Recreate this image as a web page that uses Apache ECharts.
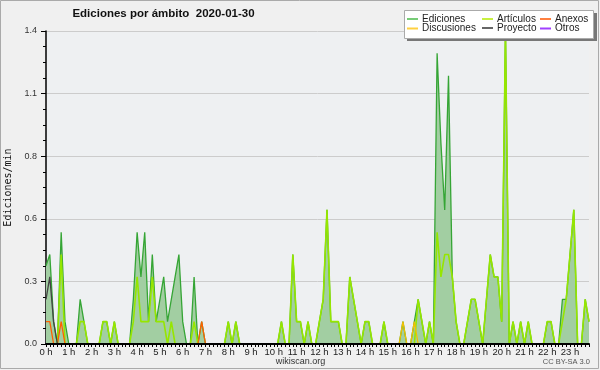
<!DOCTYPE html>
<html>
<head>
<meta charset="utf-8">
<script src="https://cdn.jsdelivr.net/npm/echarts@6/dist/echarts.min.js"></script>
<style>
html,body{margin:0;padding:0;background:#f0f0f0;}
#c{width:600px;height:370px;}
</style>
</head>
<body>
<div id="c"></div>
<script>
// tick labels (one per hour)
const hourLabels = ['0 h','1 h','2 h','3 h','4 h','5 h','6 h','7 h','8 h','9 h','10 h','11 h',
  '12 h','13 h','14 h','15 h','16 h','17 h','18 h','19 h','20 h','21 h','22 h','23 h'];

// values per 10 minutes (edits/min), 144 points
const ediciones = [
  0.35,0.4,0.1,0,0.5,0.1, 0,0,0,0.2,0.1,0, 0,0,0,0.1,0.1,0, 0.1,0,0,0,0,0.2,
  0.5,0.3,0.5,0.1,0.4,0.1, 0.2,0.3,0.1,0.2,0.3,0.4, 0.1,0,0,0.3,0,0.1, 0,0,0,0,0,0,
  0.1,0,0.1,0,0,0, 0,0,0,0,0,0, 0,0,0.1,0,0,0.4, 0.1,0.1,0,0.1,0,0,
  0.1,0.2,0.6,0.1,0.1,0.1, 0,0,0.3,0.2,0.1,0, 0.1,0.1,0,0,0,0.1, 0,0,0,0,0.1,0,
  0,0.1,0.2,0.1,0,0.1, 0,1.3,0.9,0.6,1.2,0.3, 0.1,0,0,0.1,0.2,0.2, 0.1,0,0.2,0.4,0.3,0.3,
  0.1,1.4,0,0.1,0,0.1, 0,0.1,0,0,0,0, 0.1,0.1,0,0,0.2,0.2, 0.4,0.6,0,0,0.2,0.1
];
const articulos = [
  0,0,0,0,0.4,0, 0,0,0,0.1,0.1,0, 0,0,0,0.1,0.1,0, 0.1,0,0,0,0,0.1,
  0.3,0.1,0.1,0.1,0.3,0.1, 0.1,0.1,0,0.1,0,0, 0,0,0,0.1,0,0, 0,0,0,0,0,0,
  0.1,0,0.1,0,0,0, 0,0,0,0,0,0, 0,0,0.1,0,0,0.4, 0.1,0.1,0,0.1,0,0,
  0.1,0.2,0.6,0.1,0.1,0.1, 0,0,0.3,0.2,0.1,0, 0.1,0.1,0,0,0,0.1, 0,0,0,0,0,0,
  0,0,0.2,0.1,0,0.1, 0,0.5,0.3,0.4,0.4,0.3, 0.1,0,0,0.1,0.2,0.2, 0.1,0,0.2,0.4,0.3,0.3,
  0.1,1.4,0,0.1,0,0.1, 0,0.1,0,0,0,0, 0.1,0.1,0,0,0.1,0.2, 0.4,0.6,0,0,0.2,0.1
];
const anexos = [
  0.1,0.1,0,0,0.1,0, 0,0,0,0,0,0, 0,0,0,0,0,0, 0,0,0,0,0,0,
  0,0,0,0,0,0, 0,0,0,0,0,0, 0,0,0,0,0,0.1, 0,0,0,0,0,0,
  0,0,0,0,0,0, 0,0,0,0,0,0, 0,0,0,0,0,0, 0,0,0,0,0,0,
  0,0,0,0,0,0, 0,0,0,0,0,0, 0,0,0,0,0,0, 0,0,0,0,0,0,
  0,0,0,0,0,0, 0,0,0,0,0,0, 0,0,0,0,0,0, 0,0,0,0,0,0,
  0,0,0,0,0,0, 0,0,0,0,0,0, 0,0,0,0,0,0, 0,0,0,0,0,0
];
const discusiones = [
  0,0,0,0,0,0, 0,0,0,0,0,0, 0,0,0,0,0,0, 0,0,0,0,0,0,
  0,0,0,0,0,0, 0,0,0,0,0,0, 0,0,0,0,0,0, 0,0,0,0,0,0,
  0,0,0,0,0,0, 0,0,0,0,0,0, 0,0,0,0,0,0, 0,0,0,0,0,0,
  0,0,0,0,0,0, 0,0,0,0,0,0, 0,0,0,0,0,0, 0,0,0,0,0.1,0,
  0,0.1,0,0,0,0, 0,0,0,0,0,0, 0,0,0,0,0,0, 0,0,0,0,0,0,
  0,0,0,0,0,0, 0,0,0,0,0,0, 0,0,0,0,0,0, 0,0,0,0,0,0
];
const proyecto = [
  0.2,0.3,0.1,0,0,0, 0,0,0,0,0,0, 0,0,0,0,0,0, 0,0,0,0,0,0,
  0,0,0,0,0,0, 0,0,0,0,0,0, 0,0,0,0,0,0, 0,0,0,0,0,0,
  0,0,0,0,0,0, 0,0,0,0,0,0, 0,0,0,0,0,0, 0,0,0,0,0,0,
  0,0,0,0,0,0, 0,0,0,0,0,0, 0,0,0,0,0,0, 0,0,0,0,0,0,
  0,0,0,0,0,0, 0,0,0,0,0,0, 0,0,0,0,0,0, 0,0,0,0,0,0,
  0,0,0,0,0,0, 0,0,0,0,0,0, 0,0,0,0,0,0, 0,0,0,0,0,0
];
const otros = [
  0,0,0,0,0,0, 0,0,0,0,0,0, 0,0,0,0,0,0, 0,0,0,0,0,0,
  0,0,0,0,0,0, 0,0,0,0,0,0, 0,0,0,0,0,0, 0,0,0,0,0,0,
  0,0,0,0,0,0, 0,0,0,0,0,0, 0,0,0,0,0,0, 0,0,0,0,0,0,
  0,0,0,0,0,0, 0,0,0,0,0,0, 0,0,0,0,0,0, 0,0,0,0,0,0,
  0,0,0,0,0,0, 0,0,0,0,0,0, 0,0,0,0,0,0, 0,0,0,0,0,0,
  0,0,0,0,0,0, 0,0,0,0,0,0, 0,0,0,0,0,0, 0,0,0,0,0,0
];

// categories: one per 10-minute slot, labelled on the hour
const categories = ediciones.map((_, i) => (i % 6 === 0 ? hourLabels[i / 6] : ''));

const chart = echarts.init(document.getElementById('c'), null, {renderer: 'canvas'});

const F = 'Liberation Sans, Arial, sans-serif';
function lineSeries(name, data, color, width, extra) {
  return Object.assign({
    name, type: 'line', data, showSymbol: false, symbol: 'none',
    lineStyle: {color, width}, itemStyle: {color},
    emphasis: {disabled: true}, silent: true
  }, extra || {});
}
function legendAt(name, color, left, top) {
  return {
    data: [{name, itemStyle: {color}, icon: 'rect'}],
    left, top, itemWidth: 11, itemHeight: 2, selectedMode: false, z: 20,
    padding: 0,
    textStyle: {fontFamily: F, fontSize: 10, color: '#222', padding: [0, 0, 0, -1]}
  };
}

chart.setOption({
  animation: false,
  backgroundColor: '#f0f0f0',
  grid: {left: 46, right: 11, top: 31, bottom: 26, show: true, backgroundColor: '#eef0f2', borderWidth: 0,
    containLabel: false, outerBoundsMode: 'none'},
  legend: [
    legendAt('Ediciones', '#77cc77', 407, 14),
    legendAt('Artículos', '#c8f040', 482, 14),
    legendAt('Anexos', '#ff8040', 540, 14),
    legendAt('Discusiones', '#ffd040', 407, 23.5),
    legendAt('Proyecto', '#666666', 482, 23),
    legendAt('Otros', '#a040ff', 540, 23.5)
  ],
  xAxis: {
    type: 'category', data: categories, boundaryGap: false, z: 6,
    axisLine: {lineStyle: {color: '#000', width: 2}},
    axisTick: {show: true, interval: 0, length: 3, lineStyle: {color: '#000', width: 1}},
    axisLabel: {interval: 5, margin: 3, fontFamily: F, fontSize: 9.5, color: '#222'},
    splitLine: {show: false}
  },
  yAxis: {
    type: 'value', min: 0, max: 1.4, interval: 0.28,
    name: 'Ediciones/min', nameLocation: 'middle', nameRotate: 90, nameGap: 29,
    nameTextStyle: {fontFamily: 'DejaVu Sans Mono, monospace', fontSize: 10, color: '#111'},
    axisLine: {show: true, lineStyle: {color: '#000', width: 1.5}},
    axisTick: {show: true, length: 5, lineStyle: {color: '#000'}},
    minorTick: {show: true, splitNumber: 4, length: 3, lineStyle: {color: '#000'}},
    axisLabel: {margin: 9, fontFamily: F, fontSize: 9, color: '#333',
      formatter: v => v.toFixed(1)},
    splitLine: {show: true, lineStyle: {color: '#cccccc', width: 1}}
  },
  series: [
    lineSeries('Ediciones', ediciones, '#35a535', 1.3, {areaStyle: {color: '#a2cea2', opacity: 1}}),
    lineSeries('Artículos', articulos, '#96e600', 1.6),
    lineSeries('Anexos', anexos, '#ff6000', 1.3),
    lineSeries('Discusiones', discusiones, '#f2c000', 1.3),
    lineSeries('Proyecto', proyecto, '#444444', 1.3),
    lineSeries('Otros', otros, '#9933ff', 1)
  ],
  graphic: [
    {type: 'rect', z: 0, silent: true, shape: {x: 0.5, y: 0.5, width: 598, height: 368},
      style: {fill: 'none', stroke: '#aaaaaa', lineWidth: 1}},
    {type: 'rect', z: 15, silent: true, shape: {x: 407, y: 13, width: 190, height: 28},
      style: {fill: '#777777'}},
    {type: 'rect', z: 16, silent: true, shape: {x: 404.5, y: 10.5, width: 189, height: 28},
      style: {fill: '#ffffff', stroke: '#aaaaaa', lineWidth: 1}},
    {type: 'text', z: 10, silent: true, x: 163.5, y: 14,
      style: {text: 'Ediciones por ámbito  2020-01-30', fontFamily: F, fontSize: 11.5, fontWeight: 'bold',
        fill: '#111', align: 'center', verticalAlign: 'middle'}},
    {type: 'text', z: 10, silent: true, x: 300.5, y: 361.5,
      style: {text: 'wikiscan.org', fontFamily: F, fontSize: 9, fill: '#333', align: 'center', verticalAlign: 'middle'}},
    {type: 'text', z: 10, silent: true, x: 590, y: 362,
      style: {text: 'CC BY-SA 3.0', fontFamily: F, fontSize: 7.5, fill: '#555', align: 'right', verticalAlign: 'middle'}}
  ]
});
</script>
</body>
</html>
